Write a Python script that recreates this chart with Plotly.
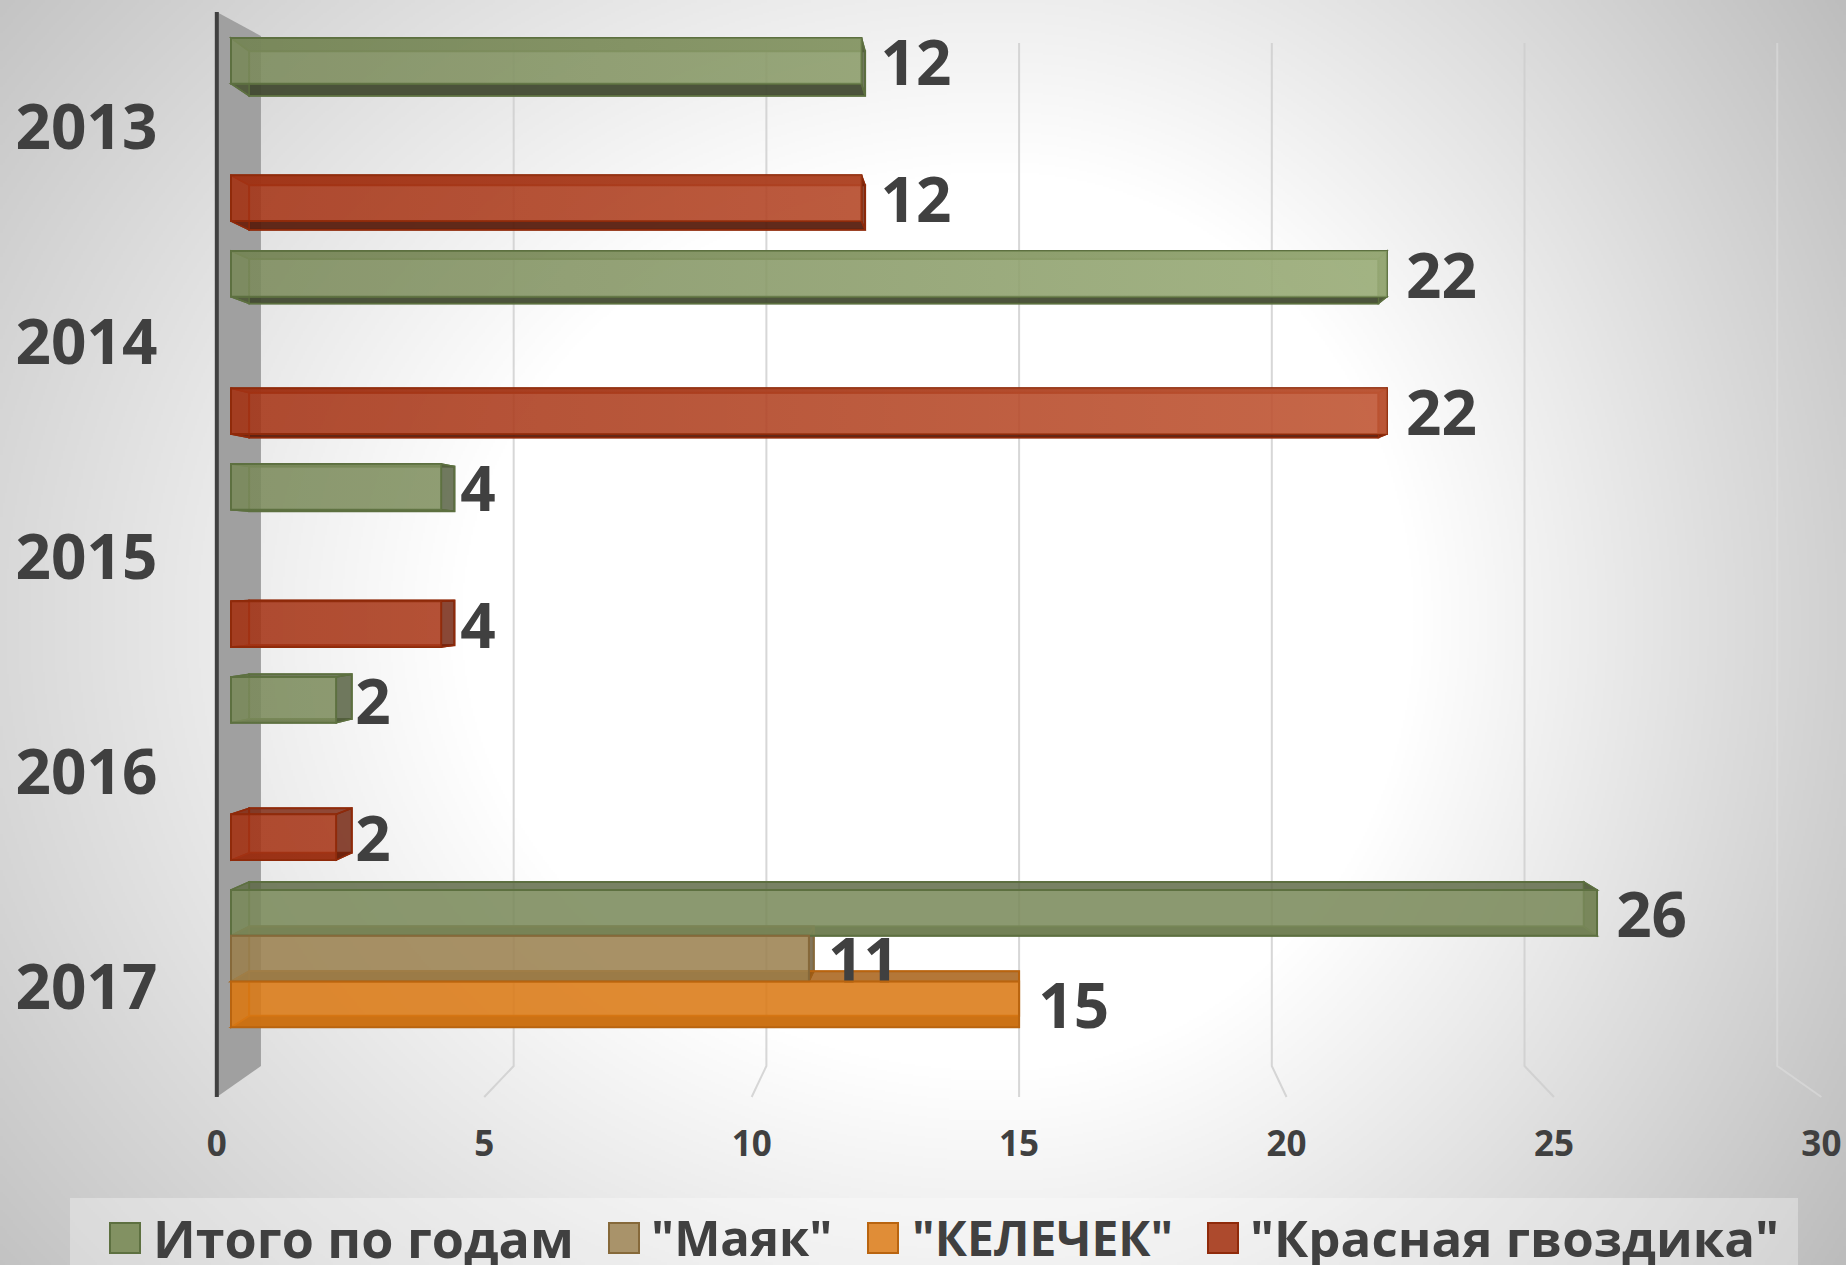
import base64, struct, zlib
import numpy as np
import plotly.graph_objects as go

# ---------- data ----------
years = ["2013", "2014", "2015", "2016", "2017"]
series_names = ["Итого по годам", '"Маяк"', '"КЕЛЕЧЕК"', '"Красная гвоздика"']
itogo = [12, 22, 4, 2, 26]
mayak = [None, None, None, None, 11]
kelechek = [None, None, None, None, 15]
gvozdika = [12, 22, 4, 2, None]
value_ticks = [0, 5, 10, 15, 20, 25, 30]

series_values = [itogo, mayak, kelechek, gvozdika]
fills = [(122, 138, 90), (155, 129, 80), (218, 121, 20), (165, 50, 20)]
edges = ["#5d7040", "#86693a", "#b9640f", "#8f2a0a"]
sheens = ["225,250,185", "255,255,255", "255,255,255", "255,170,130"]
swatches = ["#829162", "#a9936a", "#e08d37", "#ad4a2d"]
TEXT = "#404040"
FONT = "Open Sans"

# ---------- canvas / projection ----------
W, H = 1846, 1265
X0, PX_X = 231.0, 52.54      # front plane of the bars
Y0, PX_Y = 129.5, 213.0
def xu(px): return (px - X0) / PX_X
def yu(px): return (px - Y0) / PX_Y
def depth_x(v, k): return 15 + (v - 15) * k
BAR_BACK_K = 0.977
WALL_K = 0.962
FLOOR_K = 1.018
YC = yu(570)
def back_y(y): return YC + (y - YC) * 0.975
BARGAP = 0.14
SLOT = (1 - BARGAP) / 4

# ---------- background gradient image ----------
def background_png():
    w, h = W // 2, H // 2
    yy, xx = np.mgrid[0:h, 0:w]
    xx, yy = xx * 2.0, yy * 2.0
    cx, cy = 1000.0, 620.0
    ax = np.where(xx < cx, 1500.0, 1150.0)
    ay = 1250.0
    r = np.sqrt(((xx - cx) / ax) ** 2 + ((yy - cy) / ay) ** 2)
    v = 255 - 125 * np.clip(r - 0.36, 0, None)
    img = np.clip(v, 0, 255).astype(np.uint8)
    raw = b"".join(b"\x00" + img[i].tobytes() for i in range(h))
    def chunk(t, d):
        return struct.pack(">I", len(d)) + t + d + struct.pack(">I", zlib.crc32(t + d) & 0xffffffff)
    png = (b"\x89PNG\r\n\x1a\n" + chunk(b"IHDR", struct.pack(">IIBBBBB", w, h, 8, 0, 0, 0, 0))
           + chunk(b"IDAT", zlib.compress(raw, 9)) + chunk(b"IEND", b""))
    return "data:image/png;base64," + base64.b64encode(png).decode()

shapes = []
def poly(pts, fill, line=None, width=0, layer="below"):
    path = "M" + "L".join(f"{a:.4f},{b:.4f}" for a, b in pts) + "Z"
    shapes.append(dict(type="path", path=path, xref="x", yref="y", fillcolor=fill, layer=layer,
                       line=dict(color=line or "rgba(0,0,0,0)", width=width)))

# legend band
poly([(xu(70), yu(1198)), (xu(1798), yu(1198)), (xu(1798), yu(1265)), (xu(70), yu(1265))], "rgba(255,255,255,0.32)")

# left wall
poly([(depth_x(0, FLOOR_K), yu(12)), (depth_x(0, WALL_K), yu(36)),
      (depth_x(0, WALL_K), yu(1066)), (depth_x(0, FLOOR_K), yu(1097))], "#a0a0a0")

# gridlines: back wall + floor
for t in value_ticks[1:]:
    col = "rgba(205,205,205,0.8)" if t < 30 else "rgba(225,225,225,0.5)"
    xb, xf = depth_x(t, WALL_K), depth_x(t, FLOOR_K)
    shapes.append(dict(type="path", xref="x", yref="y", layer="below",
                       path=f"M{xb:.4f},{yu(43):.4f}L{xb:.4f},{yu(1066):.4f}L{xf:.4f},{yu(1097):.4f}",
                       line=dict(color=col, width=2)))

# 3-D faces of each bar, computed from the values
def rgba(c, f, a):
    return f"rgba({int(c[0]*f)},{int(c[1]*f)},{int(c[2]*f)},{a})"

for s, vals in enumerate(series_values):
    for i, v in enumerate(vals):
        if v is None:
            continue
        top = i - (1 - BARGAP) / 2 + s * SLOT
        bot = top + SLOT
        xl, xr = 0.0, float(v)
        bl, br = depth_x(0, BAR_BACK_K), depth_x(v, BAR_BACK_K)
        bt, bb = back_y(top), back_y(bot)
        c = fills[s]
        # back
        poly([(bl, bt), (br, bt), (br, bb), (bl, bb)], rgba(c, 1, 0.15), edges[s], 2)
        # underside
        poly([(xl, bot), (xr, bot), (br, bb), (bl, bb)], rgba(c, 0.52, 0.92), edges[s], 1.5)
        # top side
        poly([(xl, top), (xr, top), (br, bt), (bl, bt)], rgba(c, 0.75, 0.8), edges[s], 1.5)
        # right side
        poly([(xr, top), (xr, bot), (br, bb), (br, bt)], rgba(c, 0.68, 0.8), edges[s], 1.5)
        # left side
        poly([(xl, top), (xl, bot), (bl, bb), (bl, bt)], rgba(c, 0.9, 0.35), edges[s], 1.5)

# axis wall line
shapes.append(dict(type="line", xref="x", yref="y", x0=depth_x(0, FLOOR_K), x1=depth_x(0, FLOOR_K),
                   y0=yu(12), y1=yu(1097), line=dict(color="#404040", width=4), layer="below"))

fig = go.Figure()
for s, vals in enumerate(series_values):
    c = fills[s]
    fig.add_trace(go.Bar(
        y=list(range(len(years))), x=vals, orientation="h", name=series_names[s],
        marker=dict(color=f"rgba({c[0]},{c[1]},{c[2]},0.85)", line=dict(color=edges[s], width=2)),
        text=[None if v is None else f"\u00a0{v}" for v in vals],
        textposition="outside", constraintext="none", cliponaxis=False,
        textfont=dict(family=FONT, size=62, color=TEXT, weight="bold"),
        showlegend=False, hoverinfo="skip",
    ))

# lighter sheen on the long bars towards the centre of the slide
for s, vals in enumerate(series_values):
    for i, v in enumerate(vals):
        if v is None or i == 4:
            continue
        top = i - (1 - BARGAP) / 2 + s * SLOT
        fig.add_trace(go.Scatter(
            x=[0, v, v, 0, 0], y=[top, top, top + SLOT, top + SLOT, top], mode="lines",
            line=dict(width=0), fill="toself", showlegend=False, hoverinfo="skip",
            fillgradient=dict(type="horizontal", start=0, stop=v,
                              colorscale=[[0, f"rgba({sheens[s]},0)"], [1, f"rgba({sheens[s]},{0.28 * v / 22:.3f})"]]),
        ))

# legend, drawn at the reference's swatch size
legend_swatch_px = [110, 609, 868, 1208]
legend_text_px = [151, 649, 910, 1248]
legend_font_px = [52, 49, 48, 51]
annotations = []
for name, sw, tx, fs, col, ed in zip(series_names, legend_swatch_px, legend_text_px, legend_font_px, swatches, edges):
    shapes.append(dict(type="rect", xref="x", yref="y", x0=xu(sw), x1=xu(sw + 30), y0=yu(1223), y1=yu(1253),
                       fillcolor=col, line=dict(color=ed, width=2), layer="above"))
    annotations.append(dict(xref="x", yref="y", x=xu(tx), y=yu(1237), text=name, showarrow=False, xanchor="left",
                            yanchor="middle", font=dict(family=FONT, size=fs, color=TEXT, weight="bold")))

fig.update_layout(
    width=W, height=H, margin=dict(l=0, r=0, t=0, b=0), autosize=False,
    paper_bgcolor="#ffffff", plot_bgcolor="rgba(0,0,0,0)",
    barmode="group", bargap=BARGAP, bargroupgap=0,
    shapes=shapes, annotations=annotations, showlegend=False,
    images=[dict(source=background_png(), xref="paper", yref="paper", x=0, y=1, sizex=1, sizey=1,
                 xanchor="left", yanchor="top", sizing="stretch", layer="below")],
    xaxis=dict(domain=[0, 1], range=[xu(0), xu(W)], anchor="free", position=1 - 1120 / H, showgrid=False,
               zeroline=False, showline=False, ticks="",
               tickmode="array", tickvals=[depth_x(t, FLOOR_K) for t in value_ticks],
               ticktext=[str(t) for t in value_ticks],
               tickfont=dict(family=FONT, size=35, color=TEXT, weight="bold")),
    yaxis=dict(domain=[0, 1], range=[yu(H), yu(0)], anchor="free", position=depth_x(0, FLOOR_K) / (W / PX_X) + X0 / W,
               showgrid=False, zeroline=False, showline=False, ticks="outside", ticklen=47,
               tickcolor="rgba(0,0,0,0)", tickmode="array",
               tickvals=[yu(127 + 215 * i) for i in range(len(years))], ticktext=years,
               tickfont=dict(family=FONT, size=62, color=TEXT, weight="bold")),
)
page_fix = """
document.documentElement.style.margin='0';document.documentElement.style.overflow='hidden';
document.body.style.margin='0';
var g=document.querySelector('.plotly-graph-div');
g.style.position='fixed';g.style.left='0';g.style.top='0';g.style.margin='0';
"""
fig.write_html("out.html", post_script=page_fix, config=dict(displayModeBar=False))
